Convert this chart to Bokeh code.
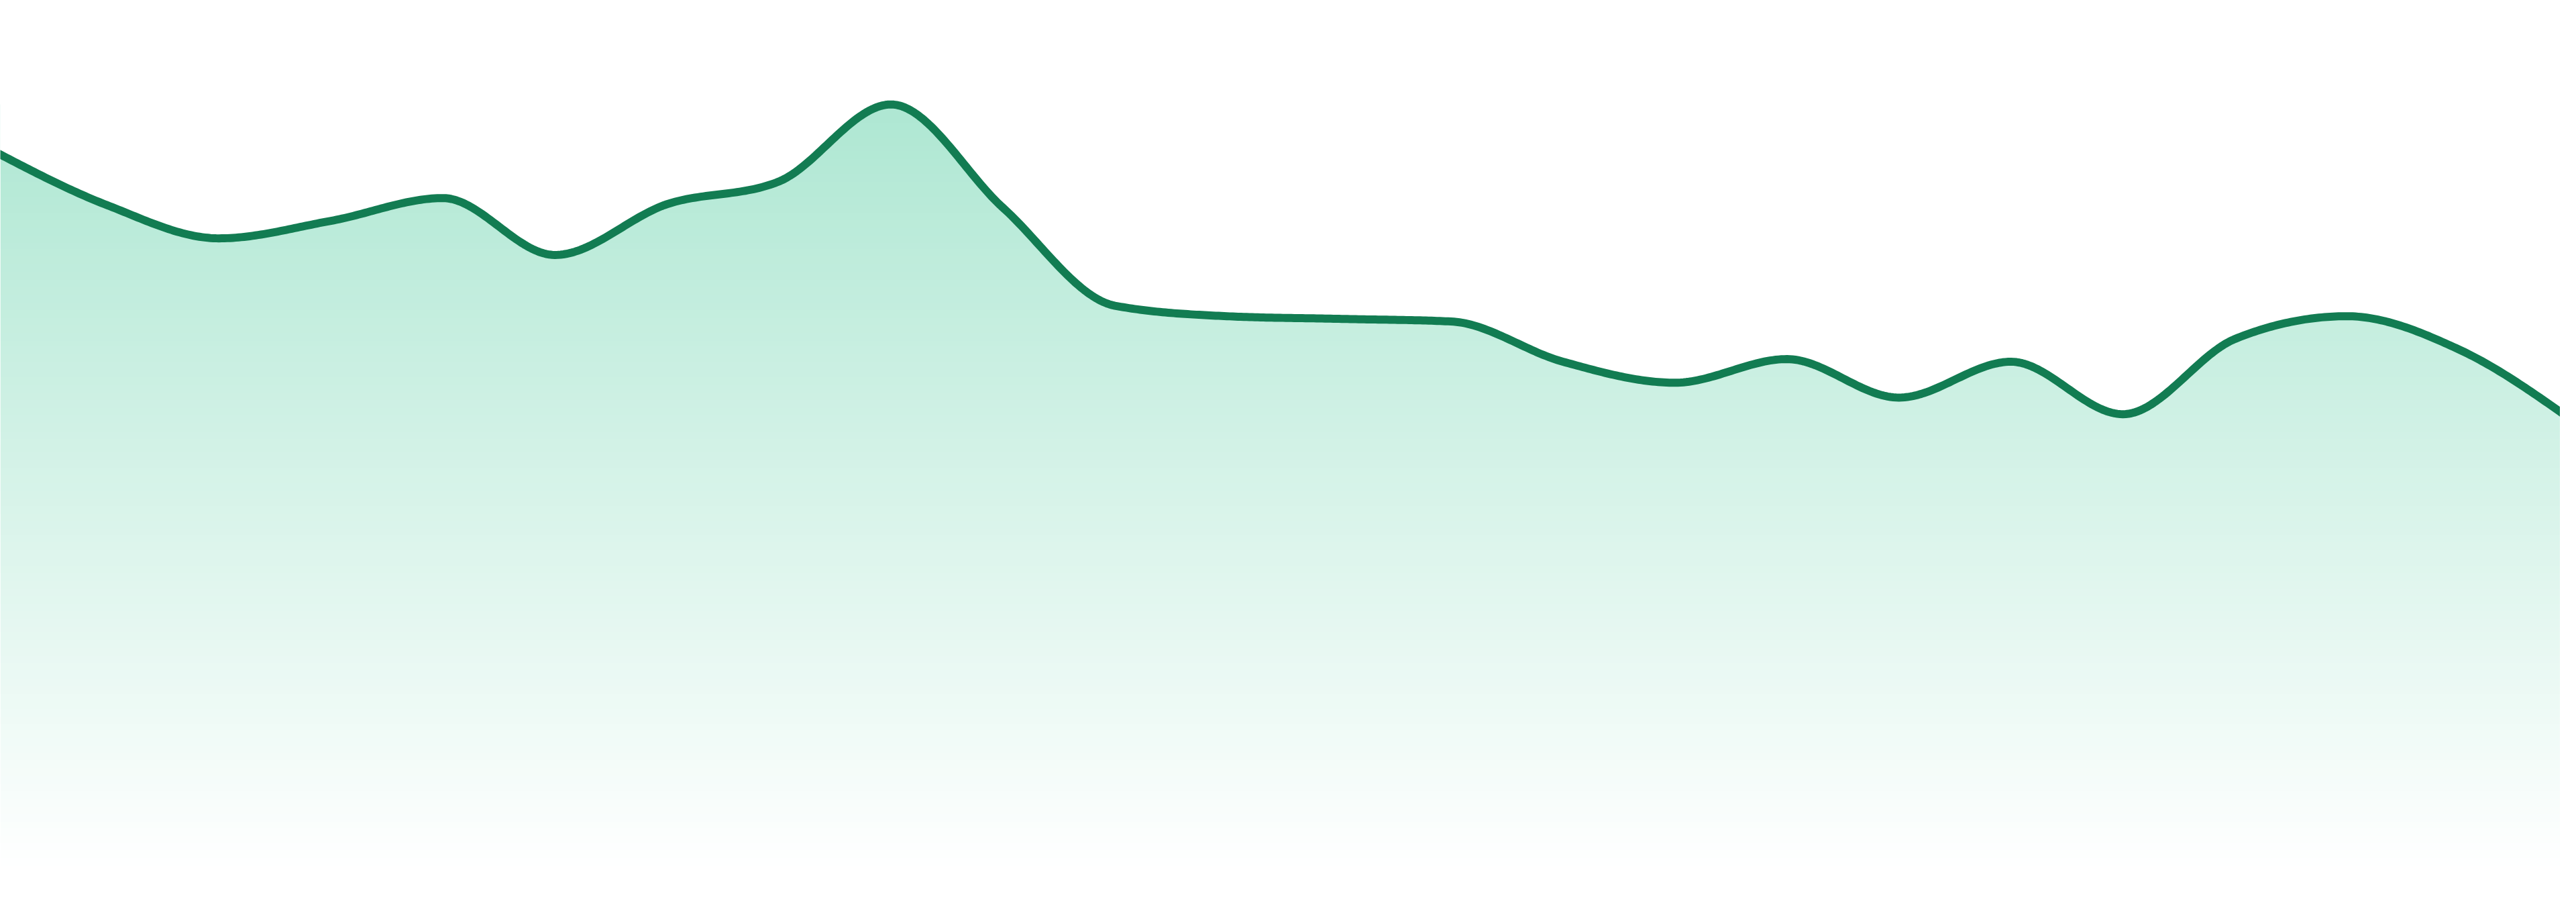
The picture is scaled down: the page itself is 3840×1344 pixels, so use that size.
import numpy as np
from bokeh.plotting import figure
from bokeh.models import Range1d
from bokeh.embed import file_html
from bokeh.resources import INLINE

# ---- data ----
x_index = list(range(24))
values = [82.1, 76.0, 72.2, 74.2, 76.8, 70.3, 76.1, 78.7, 87.5, 75.7, 64.5, 63.3,
          63.0, 62.7, 58.1, 55.7, 58.4, 54.0, 58.1, 52.1, 60.7, 63.3, 59.5, 51.5]

line_color = "#127c52"
fill_rgb = (52, 195, 143)
fill_alpha_top = 0.40


def monotone_x(xs, ys, n=40):
    xs = np.asarray(xs, float)
    ys = np.asarray(ys, float)
    m = len(xs)
    h = np.diff(xs)
    s = np.diff(ys) / h
    t = np.zeros(m)
    for i in range(1, m - 1):
        h0, h1 = h[i - 1], h[i]
        s0, s1 = s[i - 1], s[i]
        p = (s0 * h1 + s1 * h0) / (h0 + h1)
        t[i] = (np.sign(s0) + np.sign(s1)) * min(abs(s0), abs(s1), 0.5 * abs(p))
    t[0] = (3 * s[0] - t[1]) / 2
    t[-1] = (3 * s[-1] - t[-2]) / 2
    ox, oy = [], []
    for i in range(m - 1):
        u = np.linspace(0, 1, n, endpoint=(i == m - 2))
        hh = h[i]
        h00 = 2 * u**3 - 3 * u**2 + 1
        h10 = u**3 - 2 * u**2 + u
        h01 = -2 * u**3 + 3 * u**2
        h11 = u**3 - u**2
        ox.extend(xs[i] + u * hh)
        oy.extend(h00 * ys[i] + h10 * hh * t[i] + h01 * ys[i + 1] + h11 * hh * t[i + 1])
    return np.array(ox), np.array(oy)


sx, sy = monotone_x(x_index, values)

W, H = 3816, 1320
x_start = 8 * 23 / 3840
x_end = (8 + W) * 23 / 3840
y_top = 99.4

p = figure(width=W, height=H,
           x_range=Range1d(x_start, x_end), y_range=Range1d(0, y_top),
           output_backend="svg", toolbar_location=None,
           x_axis_location=None, y_axis_location=None,
           min_border_left=0, min_border_right=0, min_border_top=0, min_border_bottom=24)
p.grid.visible = False
p.outline_line_color = None
p.background_fill_color = "white"
p.border_fill_color = "white"

# vertical gradient under the curve
vmax = max(values)
N = 400
img = np.zeros((N, 2), dtype=np.uint32)
view = img.view(dtype=np.uint8).reshape((N, 2, 4))
for k in range(N):
    a = fill_alpha_top * (k + 0.5) / N
    view[k, :, 0] = fill_rgb[0]
    view[k, :, 1] = fill_rgb[1]
    view[k, :, 2] = fill_rgb[2]
    view[k, :, 3] = int(round(a * 255))
p.image_rgba(image=[img], x=x_start, y=0, dw=x_end - x_start, dh=vmax)

# white mask above the curve
p.varea(x=sx, y1=sy, y2=y_top, fill_color="white", fill_alpha=1.0)

# the line
p.line(sx, sy, line_color=line_color, line_width=12, line_join="round", line_cap="round")

open("out.html", "w").write(file_html(p, INLINE))
